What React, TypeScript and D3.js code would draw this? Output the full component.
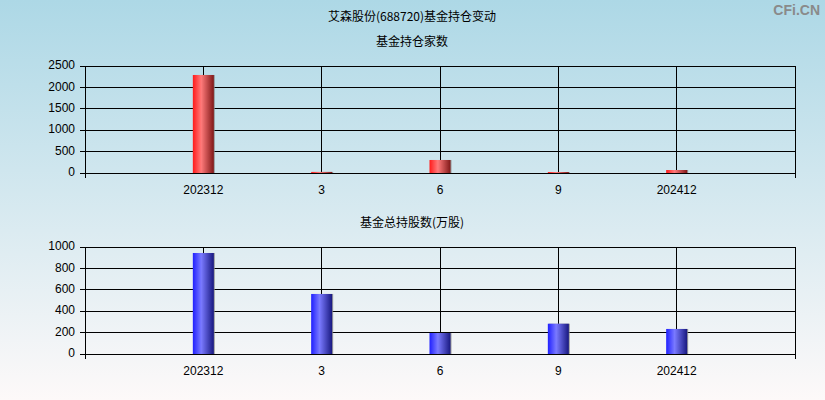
import React from "react";
import * as d3 from "d3";

const categories = ["202312", "3", "6", "9", "202412"];
const fundCount = [2290, 25, 304, 20, 70];
const fundShares = [944, 561, 196, 283, 234];
const countTicks = [0, 500, 1000, 1500, 2000, 2500];
const shareTicks = [0, 200, 400, 600, 800, 1000];

const W = 825;
const H = 400;
const left = 85;
const right = 795;

const numFont = "'Liberation Sans', Arial, sans-serif";
const cjkFont = "'Noto Sans CJK SC', sans-serif";

function Panel({ top, bottom, values, ticks, max, grad, title, titleY }: any) {
  const x = d3.scaleLinear().domain([0, categories.length + 1]).range([left, right]);
  const y = d3.scaleLinear().domain([0, max]).range([bottom, top]);
  const bw = 21;
  return (
    <g>
      <text x={412} y={titleY} textAnchor="middle" dominantBaseline="middle" fontFamily={cjkFont} fontSize={12} fill="#000">
        {title}
      </text>
      {ticks.map((t: number) => (
        <g key={t}>
          <line x1={left - 5} x2={right} y1={y(t)} y2={y(t)} stroke="#000" strokeWidth={1} shapeRendering="crispEdges" />
          <text x={75} y={y(t)} textAnchor="end" dominantBaseline="middle" fontFamily={numFont} fontSize={12} fill="#000">
            {t}
          </text>
        </g>
      ))}
      {categories.map((c, i) => (
        <line key={c} x1={x(i + 1)} x2={x(i + 1)} y1={top} y2={bottom} stroke="#000" strokeWidth={1} shapeRendering="crispEdges" />
      ))}
      <line x1={left} x2={left} y1={top} y2={bottom + 5} stroke="#000" shapeRendering="crispEdges" />
      <line x1={right} x2={right} y1={top} y2={bottom + 5} stroke="#000" shapeRendering="crispEdges" />
      {values.map((v: number, i: number) => {
        const cx = x(i + 1);
        const yt = y(v);
        const h = Math.max(bottom - yt, 1);
        return (
          <g key={i}>
            <rect x={cx - bw / 2 + 1} y={bottom - h} width={bw} height={h} fill="#888" opacity={0.8} />
            <rect x={cx - bw / 2} y={bottom - h} width={bw} height={h} fill={`url(#${grad})`} />
          </g>
        );
      })}
      {categories.map((c, i) => (
        <text key={c} x={x(i + 1)} y={bottom + 21} textAnchor="middle" fontFamily={numFont} fontSize={12} fill="#000">
          {c}
        </text>
      ))}
    </g>
  );
}

export default function App() {
  return (
    <svg width={W} height={H} style={{ position: "absolute", left: 0, top: 0 }}>
      <defs>
        <linearGradient id="bg" x1="0" y1="0" x2="0" y2="1">
          <stop offset="0" stopColor="#add8e6" />
          <stop offset="1" stopColor="#fdf9f9" />
        </linearGradient>
        <linearGradient id="red" x1="0" y1="0" x2="1" y2="0">
          <stop offset="0" stopColor="#ff1a1a" />
          <stop offset="0.4" stopColor="#ff7a7a" />
          <stop offset="1" stopColor="#801818" />
        </linearGradient>
        <linearGradient id="blue" x1="0" y1="0" x2="1" y2="0">
          <stop offset="0" stopColor="#2020ff" />
          <stop offset="0.4" stopColor="#7a7aff" />
          <stop offset="1" stopColor="#181880" />
        </linearGradient>
      </defs>
      <rect x={0} y={0} width={W} height={H} fill="url(#bg)" />
      <text x={412} y={18} textAnchor="middle" dominantBaseline="middle" fontFamily={cjkFont} fontSize={12} fill="#000">
        艾森股份(688720)基金持仓变动
      </text>
      <text x={820} y={11} textAnchor="end" dominantBaseline="middle" fontFamily={numFont} fontWeight="bold" fontSize={14} fill="#8a8a8a">
        CFi.CN
      </text>
      <Panel top={66} bottom={173} values={fundCount} ticks={countTicks} max={2500} grad="red" title="基金持仓家数" titleY={43} />
      <Panel top={247} bottom={354} values={fundShares} ticks={shareTicks} max={1000} grad="blue" title="基金总持股数(万股)" titleY={224} />
    </svg>
  );
}
